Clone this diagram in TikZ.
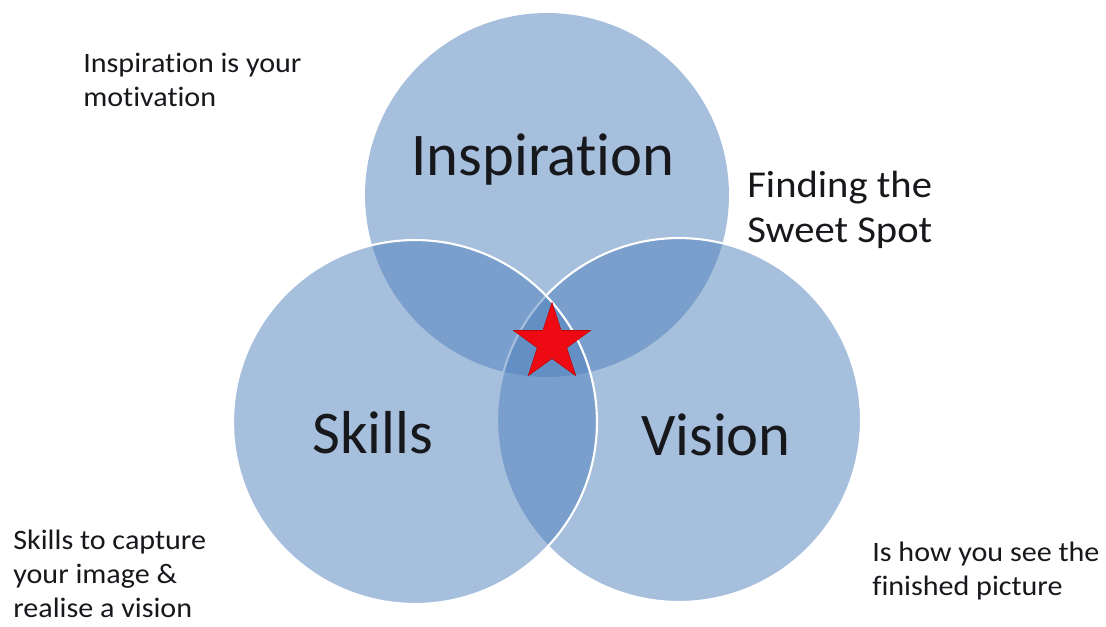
\documentclass[tikz,border=0pt]{standalone}
\usepackage{fontspec}
\setmainfont[Ligatures=NoCommon]{Carlito}
\newfontfamily\notefont[Ligatures=NoCommon,FakeStretch=1.07]{Carlito}
\usepackage{tikz}
\usetikzlibrary{shapes.geometric,positioning}
\definecolor{venn}{RGB}{79,129,189}
\definecolor{ink}{RGB}{22,24,28}
\definecolor{spot}{RGB}{238,10,18}

\begin{document}
\begin{tikzpicture}[x=0.02cm,y=-0.02cm,
  ring/.style={circle,minimum size=7.28cm,inner sep=0,fill=venn,fill opacity=0.5,draw=white,line width=1.2pt},
  big/.style={font=\fontsize{34.5}{40}\selectfont,text=ink,inner sep=0,anchor=base},
  note/.style={font=\notefont\fontsize{16}{19.3}\selectfont,text=ink,inner sep=0,align=left,anchor=base west}]
  \useasboundingbox (0,0) rectangle (1106,626);
  \fill[white] (0,0) rectangle (1106,626);
  % the three circles
  \node[ring,draw=none] (insp) at (547,195) {};
  \node[ring] (vis) at (679,420) {};
  \node[ring] (skl) at (415,422) {};
  \node[big] (inspl) at (543,175) {Inspiration};
  \node[big] (skll) at (373,453) {Skills};
  \node[big] (visl) at (716,455) {Vision};
  % sweet spot
  \node[star,star points=5,star point ratio=2.618,minimum size=1.62cm,inner sep=0,fill=spot,draw=red!75!black,line width=0.3pt] (sweet) at (552,343) {};
  % side notes (anchored on the last line)
  \node[note] (inspn) at (83,106) {Inspiration is your\\motivation};
  \node[note,font=\notefont\fontsize{21.6}{25.6}\selectfont] (sweetn) at (747,242) {Finding the\\Sweet Spot};
  \node[note] (skln) at (13,617) {Skills to capture\\your image \&\\realise a vision};
  \node[note] (visn) at (872,595) {Is how you see the\\finished picture};
\end{tikzpicture}
\end{document}
